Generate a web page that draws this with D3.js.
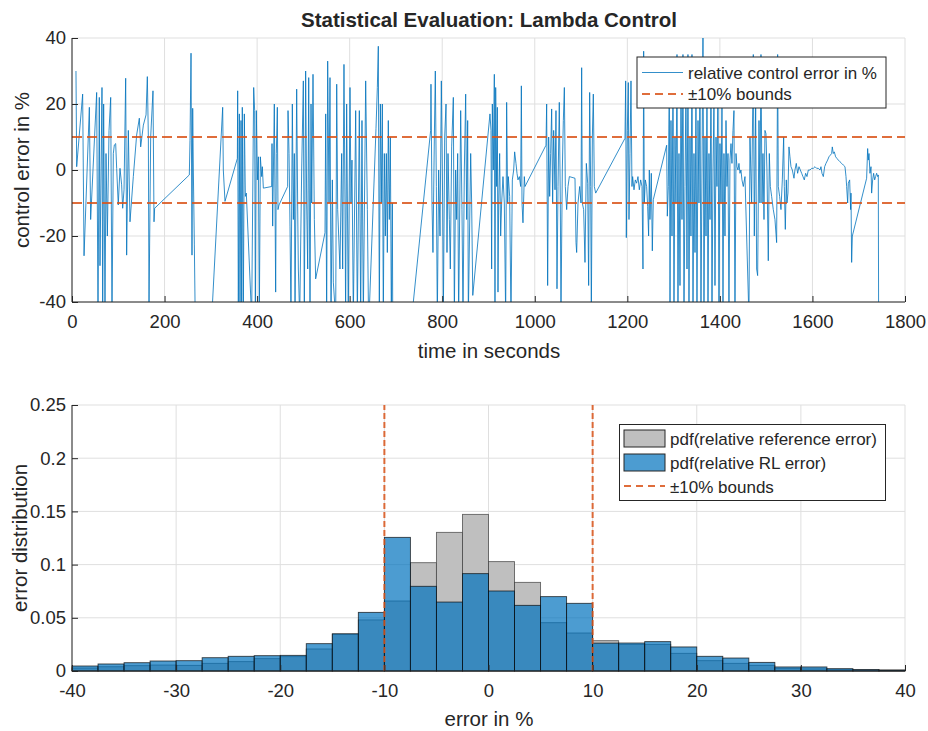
<!DOCTYPE html>
<html><head><meta charset="utf-8">
<script src="https://cdn.jsdelivr.net/npm/d3@7"></script>
<style>body{margin:0;background:#fff} text{font-family:"Liberation Sans",Arial,Helvetica,sans-serif;fill:#262626}</style>
</head><body><svg id="c" width="928" height="731"></svg>
<script>
// ---------- data ----------
const timeTicks = [0,200,400,600,800,1000,1200,1400,1600,1800];
const errorTicks = [-40,-20,0,20,40];
const bounds = [-10,10];
// [time in s, relative control error in %]
const controlErrorSeries = [
[8.6,30],[10.1,1],[23,23],[26,-26],[37.5,19],[40.3,-15],[53.3,23.5],[56.2,-45],[59,22],[60.5,-29],[64.8,25],[66.3,-45],[68.4,20],[71.3,-45],[73.5,5],[76.4,-20],[80,12],[83.6,22],[86.4,-45],[89.3,5],[91.5,7.6],[94.4,8],[96.5,0.5],[100,-10.6],[103.7,0.5],[107.3,-4.5],[109.5,-11.6],[112.4,-6],[116,27.8],[118.1,-25.8],[121.7,12],[125.3,-15.7],[132.5,-2],[139.7,10.6],[145.5,15.7],[148.4,7],[154.2,13.6],[160,16.7],[162.8,28.3],[165,10],[166.4,-42],[170,10],[175,24],[177.2,-15.7],[178.6,-11.6],[253.5,-1.5],[255,9],[257.2,35.4],[259.3,-25.8],[260.8,18.7],[262.2,0],[264.4,-22.7],[266.5,-48],[300,-50],
[325.6,19],[327,0],[330.6,-9.5],[357.3,3.5],[358,24],[359.4,-45],[361.6,17],[363,-45],[365.2,15],[366.6,-45],[368,19],[370.2,-45],[372.4,17],[374.6,-8],[376.7,-7],[388.2,-45],[392.6,25],[394.7,18],[396.2,-45],[398.3,18],[400.5,-3],[402.7,4],[404.8,-45],[407,4],[409.9,-2],[411.3,1],[413.5,-5.5],[431.5,-5],[432.2,8],[433.6,-17],[437.2,20],[440.1,-37],[441.5,5],[443.7,19],[445.1,-12],[447.3,-10.6],[466,-5],[466.8,18],[469,5],[471.1,-17],[473.2,-45],[476.1,20],[478.3,-15],[480.4,5],[481.9,-45],[485.5,24.5],[487.6,-10],[489.1,-30],[492,-45],[496.3,0],[499.9,27],[502,-45],[504.9,30],[507.1,-10],[509.3,-30],[511.5,28],[514.3,-45],[516.5,20],[518,-10],[520.8,29],[523.7,-15],[526.5,-33],[546.7,-19],[548.2,17],[550.3,-45],[552.5,33],[555.4,-10],[557.5,28],[559.7,-45],[562.6,-3],[564.7,-34],[569.8,-45],[572,26],[574.1,-12],
[579,-30],[582.7,5],[584.9,-30],[587.7,32],[589.9,-10],[591.3,-45],[593.5,20],[597,-45],[600.7,25],[602.9,-10],[605,3],[607.9,-45],[613,18],[616.6,-45],[620.9,18],[623.8,-45],[626.6,15],[629.5,-45],[634.6,27],[638.2,-12],[641,-48],[656.9,12.5],[659.8,25],[661.9,37.5],[664.1,-45],[666.3,20],[668.4,-10],[670.6,20],[672.7,-45],[674.9,5],[677.1,-20],[679.2,5],[681.4,-25],[683.5,15],[685.7,-15],[687.9,10],[690,-45],[692.2,-10],[694.4,-100],
[775,12],[775.7,26],[777.9,-10],[780,-25],[783,10],[785.1,30],[787.3,-5],[789.4,-45],[792.3,0],[795.2,-20],[798.1,27],[801,-10],[802.4,-45],[805.3,10],[808.2,20],[810.3,-25],[812.5,5],[815.4,-15],[817.5,-30],[820.4,7],[824,22],[826.2,-45],[829,0],[831.2,-15],[833.4,5],[835.5,-45],[839.9,18],[842.7,-12],[844.9,-45],[847.8,0],[850.7,23],[852.8,-15],[855,15],[856.4,-45],[861.5,5],[863.6,-10],[866,-38],
[903.2,17],[905.4,12],[906.8,-30],[908.3,20],[910.4,0],[912.6,29],[914,-45],[915.5,25],[917.6,-5],[919.1,19],[920.5,-37],[922,-10],[924.1,5],[926.3,-20],[928.4,-10],[931.3,-2],[934.2,-10],[937.1,-45],[939.2,20.5],[941.4,-10],[942.8,-2],[945.7,-8],[948.6,-45],[951.5,-3],[954.4,0],[956.5,5.5],[959.4,2],[961.6,-1],[963.7,-3],[966.6,-2],[969.5,-5],[971,25.5],[972.4,-10],[974.5,-16],[977.4,-2],[978.9,-5],
[1024.2,7.5],[1025.7,20],[1027.8,-35],[1030,10],[1032.2,-8],[1034.3,5],[1036.5,18.5],[1038.6,-10],[1040.8,12],[1043.7,-6],[1045.8,18],[1048,-36],[1050.2,-5],[1053,20.5],[1055.2,-10],[1056.6,-45],[1059.5,0],[1061.7,15],[1063.9,25],[1066,-5],[1068.9,-12],[1071.8,-5],[1074.7,-2],[1086.9,-2.5],[1089.1,-22],[1090.5,-25],[1093.4,-10],[1097,-5],[1099.9,-10],[1101.3,31],[1102.7,-10],[1105.6,-12],[1108.5,-28],[1111.4,2],[1114.3,-4],[1116.4,-35],[1118.6,23.5],[1120.8,-5],[1122.2,-45],[1124.4,10],[1126.5,23],[1128.7,-5],[1131.6,-7],
[1194.9,9.6],[1196.4,27],[1197.8,-20.5],[1200,12],[1202.1,26.5],[1203.6,-15],[1205.7,5],[1207.9,27],[1210,-5],[1211.5,-2],[1214.4,-6],[1217.2,-3],[1220.1,-4],[1223,-2],[1225.9,-6],[1228.8,-3],[1231.7,-5],[1233.8,-30],[1235.3,36],[1236.7,-10],[1238.9,-3],[1241.7,-5],[1243.9,-11],[1246,-20],[1247.5,0],[1248.9,-15],[1251.8,-1],[1254,-24.5],[1256.1,-9],
[1285,7.5],[1286.4,-14],[1288.6,-5],[1290.7,28],[1292.2,-40],[1294.3,15],[1296.5,-20],[1298.7,30],[1300.8,-45],[1303,10],[1305.1,-10],[1307.3,35],[1309.4,-45],[1311.6,5],[1313.8,-35],[1315.9,30],[1318.1,-15],[1320.2,35],[1322.4,-45],[1324.6,-5],[1326.7,25],[1328.9,-30],[1331,35],[1333.2,-45],[1335.4,10],[1337.5,-20],[1339.7,35],[1341.9,-45],[1344,5],[1346.2,-25],[1348.3,25],[1350.5,-45],[1352.7,15],[1354.8,-10],[1357,30],[1359.1,-45],[1361.3,0],[1363.5,45],[1365.6,-45],[1367.8,10],[1370,-20],[1372.1,25],[1374.3,-45],[1376.4,5],[1378.6,-15],[1380.8,30],[1382.9,-45],[1385.1,0],[1387.2,20],[1389.4,-35],[1391.6,10],[1393.7,-5],[1395.9,30],[1398,-45],[1400.2,8],[1402.4,-10],[1404.5,20],[1406.7,-40],[1408.8,5],[1411,-20],[1413.2,15],[1415.3,-5],[1417.5,5],[1419.6,-45],[1421.8,3],[1424,8],[1426.1,2],[1428.3,12],[1430.4,18],[1432.6,-45],[1434.8,5],[1436.9,1],[1439.1,0],[1441.2,2],[1443.4,-1],[1445.5,0],[1447.7,-3],[1450.6,-5],[1454.2,-2],
[1462.8,-45],[1465,10],[1468.6,-10],[1472.2,35],[1474.4,-20],[1477.3,20],[1479.4,-30],[1481.6,-32],[1484.5,15],[1486.6,-10],[1488.8,35],[1491,-10],[1493.1,5],[1495.3,-15],[1497.4,12],[1499.6,11],[1501.7,0],[1504.6,-27.5],[1506.8,5],[1509,-5],[1511.8,-8],[1515.4,-12],[1519,-15],[1522.6,-22],[1524.8,35],[1526.2,-5],[1529.1,-8],[1532,-12],[1534.9,-3],[1537.8,10],[1539.2,-5],[1541.4,-18],[1543.5,-3],[1545,-10],[1547.1,-7],[1549.3,7],[1551.4,4],[1553.6,1],[1556.5,0],[1560.1,-2.5],[1562.2,0],[1565.1,2],[1568,-1],[1570.9,1],[1573.8,0],[1576.7,-1],[1579.5,-2],[1582.4,-3],[1585.3,-1],[1588.2,-2],[1591.1,0],[1594.7,0],[1598.3,0.5],[1601.9,0.5],[1605.5,1],[1609.1,0.5],[1612.7,0.5],[1616.3,0],[1618.4,1],[1620.6,-1],[1623.5,-2],[1626.4,1],[1629.2,2],[1632.8,3],[1635.7,4],[1638.6,4.5],[1641.5,5],[1642.9,7],[1645.1,5],[1647.2,5.5],[1650.1,4],[1653,3.5],[1655.9,3],[1659.5,2.5],[1663.1,2],[1666.7,1.5],[1670.3,1],[1672.5,-2],[1673.9,-5],[1676.1,-10],[1677.5,-4],[1680.4,-3],[1682.5,-12],[1683.3,-7],[1684.7,-28],[1686.2,-20],[1717.1,-2.5],[1719.3,6.5],[1720.7,3],[1722.2,5],[1724.3,-1],[1726.5,1],[1727.9,-7],[1730.1,-3],[1732.2,-1],[1734.4,-3],[1736.5,-2],[1738.7,-1],[1740.9,-2],[1742.3,-1.5],[1743,-45]
];

const binEdges = [-40,-37.5,-35,-32.5,-30,-27.5,-25,-22.5,-20,-17.5,-15,-12.5,-10,-7.5,-5,-2.5,0,2.5,5,7.5,10,12.5,15,17.5,20,22.5,25,27.5,30,32.5,35,37.5,40];
const refPdf = [0.0028,0.0040,0.0050,0.0056,0.0053,0.0072,0.0088,0.0116,0.0135,0.0207,0.0345,0.0480,0.0658,0.1018,0.1303,0.1472,0.1028,0.0833,0.0454,0.0357,0.0285,0.0250,0.0250,0.0166,0.0097,0.0072,0.0053,0.0025,0.0020,0.0013,0.0010,0.0008];
const rlPdf  = [0.0047,0.0066,0.0078,0.0094,0.0097,0.0125,0.0138,0.0144,0.0147,0.0257,0.0350,0.0551,0.1256,0.0796,0.0648,0.0915,0.0752,0.0617,0.0699,0.0636,0.0262,0.0263,0.0276,0.0226,0.0138,0.0122,0.0081,0.0038,0.0038,0.0022,0.0013,0.0009];
const histXTicks = [-40,-30,-20,-10,0,10,20,30,40];
const histYTicks = [0,0.05,0.1,0.15,0.2,0.25];
const histYTickLabels = ["0","0.05","0.1","0.15","0.2","0.25"];

// ---------- styles ----------
const C_BLUE = "#0072BD", C_ORANGE = "#D95319", C_GRID = "#dfdfdf", C_AX = "#262626";
const TICK_FS = 18.5, LABEL_FS = 20.5, TITLE_FS = 20.5, LEG_FS = 17;

const svg = d3.select("#c");

function drawGrid(g, x, y, xt, yt) {
  g.append("g").selectAll("line").data(xt).join("line")
    .attr("x1", d => x(d)).attr("x2", d => x(d))
    .attr("y1", y.range()[0]).attr("y2", y.range()[1])
    .attr("stroke", C_GRID).attr("stroke-width", 1);
  g.append("g").selectAll("line").data(yt).join("line")
    .attr("y1", d => y(d)).attr("y2", d => y(d))
    .attr("x1", x.range()[0]).attr("x2", x.range()[1])
    .attr("stroke", C_GRID).attr("stroke-width", 1);
}
function drawAxisLines(g, x, y, xt, yt, ytl) {
  const xa = d3.axisBottom(x).tickValues(xt).tickSize(-6).tickPadding(13).tickFormat(d => String(d));
  const gx = g.append("g").attr("transform", `translate(0,${y.range()[0]})`).call(xa);
  const ya = d3.axisLeft(y).tickValues(yt).tickSize(-6).tickPadding(6)
    .tickFormat((d, i) => ytl ? ytl[i] : String(d));
  const gy = g.append("g").attr("transform", `translate(${x.range()[0]},0)`).call(ya);
  [gx, gy].forEach(a => {
    a.select(".domain").attr("stroke", C_AX).attr("stroke-width", 1);
    a.selectAll(".tick line").attr("stroke", C_AX);
    a.selectAll(".tick text").attr("font-size", TICK_FS).attr("fill", C_AX)
      .style("font-family", '"Liberation Sans",Arial,sans-serif');
  });
  gy.select(".domain").attr("d", `M0,${y.range()[0]}V${y.range()[1]}`);
  gx.select(".domain").attr("d", `M${x.range()[0]},0H${x.range()[1]}`);
}

// ---------- top panel ----------
const x1 = d3.scaleLinear().domain([0, 1800]).range([72, 905]);
const y1 = d3.scaleLinear().domain([-40, 40]).range([302, 38]);
const topG = svg.append("g");
drawGrid(topG, x1, y1, timeTicks, errorTicks);
svg.append("clipPath").attr("id", "clipTop").append("rect")
  .attr("x", 72).attr("y", 38).attr("width", 833).attr("height", 264);
topG.append("path").datum(controlErrorSeries)
  .attr("clip-path", "url(#clipTop)")
  .attr("d", d3.line().x(d => x1(d[0])).y(d => y1(d[1])))
  .attr("fill", "none").attr("stroke", C_BLUE).attr("stroke-width", 0.8)
  .attr("stroke-linejoin", "round");
topG.append("g").selectAll("line").data(bounds).join("line")
  .attr("x1", x1(0)).attr("x2", x1(1800)).attr("y1", d => y1(d)).attr("y2", d => y1(d))
  .attr("stroke", C_ORANGE).attr("stroke-opacity", 0.85).attr("stroke-width", 2.2).attr("stroke-dasharray", "10,5");
drawAxisLines(topG, x1, y1, timeTicks, errorTicks);
topG.append("text").attr("x", 489).attr("y", 27).attr("text-anchor", "middle")
  .attr("font-size", TITLE_FS).attr("font-weight", "bold").attr("fill", "#000")
  .text("Statistical Evaluation: Lambda Control");
topG.append("text").attr("x", 489).attr("y", 358).attr("text-anchor", "middle")
  .attr("font-size", LABEL_FS).text("time in seconds");
topG.append("text").attr("transform", "translate(29,170) rotate(-90)").attr("text-anchor", "middle")
  .attr("font-size", LABEL_FS).text("control error in %");
// legend top
const lg1 = topG.append("g");
lg1.append("rect").attr("x", 637).attr("y", 57).attr("width", 249).attr("height", 51)
  .attr("fill", "#fff").attr("stroke", "#262626").attr("stroke-width", 1);
lg1.append("line").attr("x1", 642).attr("x2", 683).attr("y1", 72.5).attr("y2", 72.5)
  .attr("stroke", C_BLUE).attr("stroke-width", 0.8);
lg1.append("line").attr("x1", 642).attr("x2", 683).attr("y1", 94).attr("y2", 94)
  .attr("stroke", C_ORANGE).attr("stroke-opacity", 0.85).attr("stroke-width", 2.2).attr("stroke-dasharray", "8,5");
lg1.append("text").attr("x", 688).attr("y", 78.5).attr("font-size", LEG_FS).text("relative control error in %");
lg1.append("text").attr("x", 688).attr("y", 100).attr("font-size", LEG_FS).text("±10% bounds");

// ---------- bottom panel ----------
const x2 = d3.scaleLinear().domain([-40, 40]).range([72, 905]);
const y2 = d3.scaleLinear().domain([0, 0.25]).range([671, 405]);
const botG = svg.append("g");
drawGrid(botG, x2, y2, histXTicks, histYTicks);
const bins = refPdf.map((v, i) => ({x0: binEdges[i], x1: binEdges[i + 1], ref: v, rl: rlPdf[i]}));
botG.append("g").selectAll("rect").data(bins).join("rect")
  .attr("x", d => x2(d.x0)).attr("width", d => x2(d.x1) - x2(d.x0))
  .attr("y", d => y2(d.ref)).attr("height", d => y2(0) - y2(d.ref))
  .attr("fill", "#bfbfbf").attr("stroke", "#3a3a3a").attr("stroke-opacity", 0.75).attr("stroke-width", 0.9);
botG.append("g").selectAll("rect").data(bins).join("rect")
  .attr("x", d => x2(d.x0)).attr("width", d => x2(d.x1) - x2(d.x0))
  .attr("y", d => y2(d.rl)).attr("height", d => y2(0) - y2(d.rl))
  .attr("fill", C_BLUE).attr("fill-opacity", 0.7)
  .attr("stroke", "#0a0a0a").attr("stroke-opacity", 0.75).attr("stroke-width", 0.9);
botG.append("g").selectAll("line").data(bounds).join("line")
  .attr("x1", d => x2(d)).attr("x2", d => x2(d)).attr("y1", y2(0)).attr("y2", y2(0.25))
  .attr("stroke", C_ORANGE).attr("stroke-opacity", 0.85).attr("stroke-width", 2).attr("stroke-dasharray", "6,3");
drawAxisLines(botG, x2, y2, histXTicks, histYTicks, histYTickLabels);
botG.append("text").attr("x", 489).attr("y", 726).attr("text-anchor", "middle")
  .attr("font-size", LABEL_FS).text("error in %");
botG.append("text").attr("transform", "translate(27,538) rotate(-90)").attr("text-anchor", "middle")
  .attr("font-size", LABEL_FS).text("error distribution");
// legend bottom
const lg2 = botG.append("g");
lg2.append("rect").attr("x", 619.5).attr("y", 424.5).attr("width", 266).attr("height", 76)
  .attr("fill", "#fff").attr("stroke", "#262626").attr("stroke-width", 1);
lg2.append("rect").attr("x", 624).attr("y", 430).attr("width", 41).attr("height", 17)
  .attr("fill", "#bfbfbf").attr("stroke", "#262626").attr("stroke-width", 1);
lg2.append("rect").attr("x", 624).attr("y", 454).attr("width", 41).attr("height", 17)
  .attr("fill", C_BLUE).attr("fill-opacity", 0.7).attr("stroke", "#262626").attr("stroke-width", 1);
lg2.append("line").attr("x1", 624).attr("x2", 665).attr("y1", 486).attr("y2", 486)
  .attr("stroke", C_ORANGE).attr("stroke-opacity", 0.85).attr("stroke-width", 2).attr("stroke-dasharray", "7,5");
lg2.append("text").attr("x", 670).attr("y", 444.5).attr("font-size", LEG_FS).text("pdf(relative reference error)");
lg2.append("text").attr("x", 670).attr("y", 468.5).attr("font-size", LEG_FS).text("pdf(relative RL error)");
lg2.append("text").attr("x", 670).attr("y", 492.5).attr("font-size", LEG_FS).text("±10% bounds");
</script></body></html>
